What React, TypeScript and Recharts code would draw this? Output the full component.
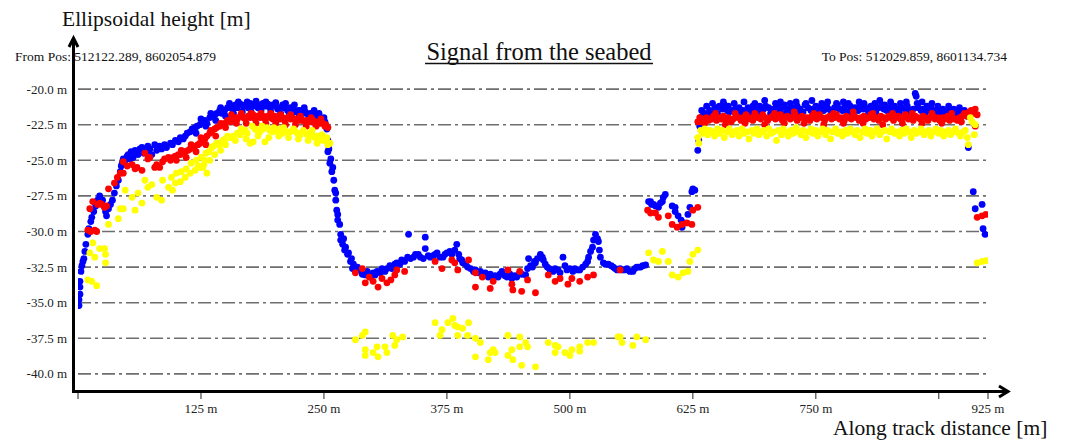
import React from 'react';
import { ReferenceLine, Scatter, ScatterChart, XAxis, YAxis } from 'recharts';

type Pt = [number, number];

// along-track distance [m], ellipsoidal height [m]
const blueRise: Pt[] = [
  [1, -35.2], [1, -34.8], [2, -34.4], [2, -33.9], [2, -33.5], [3, -32.8], [4, -32.4], [5, -32.1],
  [6, -31.9], [7, -31.4], [8, -30.9], [10, -30.2], [11, -29.8], [13, -29.3], [14, -29.0], [16, -28.6],
  [18, -28.2], [19, -27.9], [20, -27.8], [22, -27.5], [23, -28.0], [25, -27.8], [27, -28.3], [28, -28.6],
  [29, -28.9], [31, -28.4], [33, -28.1], [35, -27.8], [37, -27.3], [39, -26.8], [41, -26.4], [43, -25.8],
  [44, -25.4], [45, -25.2], [46, -24.9], [48, -25.0], [50, -24.7], [51, -24.6], [53, -24.9], [54, -24.4],
  [56, -24.8], [58, -24.3], [60, -24.5], [61, -24.6], [63, -24.2], [65, -24.1], [67, -24.5], [69, -24.4],
  [71, -24.0], [73, -24.2], [75, -24.6], [78, -23.9], [80, -24.3], [83, -24.0], [85, -24.2], [88, -23.9],
  [90, -24.1], [94, -23.8], [96, -23.9], [99, -23.6], [102, -23.7], [104, -23.4], [107, -23.5], [109, -23.3],
];

const blueHump: Pt[] = [
  [111, -23.1], [114, -23.0], [116, -22.8], [119, -22.7], [121, -22.6], [124, -22.5], [126, -22.3], [129, -22.2],
  [131, -22.4], [134, -22.0], [136, -21.9], [139, -21.8], [141, -21.7], [144, -21.5], [146, -21.7], [149, -21.5],
  [152, -21.3], [155, -21.2], [157, -21.4], [160, -21.1], [162, -21.3], [165, -21.05], [168, -21.2], [170, -21.1],
  [173, -21.3], [175, -21.0], [178, -21.2], [180, -21.1], [183, -21.3], [185, -21.1], [188, -21.0], [190, -21.2],
  [193, -21.05], [195, -21.3], [198, -21.1], [200, -21.2], [203, -21.4], [205, -21.3], [208, -21.1], [210, -21.3],
  [213, -21.5], [216, -21.3], [219, -21.4], [221, -21.6], [224, -21.5], [226, -21.5], [229, -21.7], [231, -21.6],
  [234, -21.8], [236, -21.7], [239, -21.9], [241, -21.9], [244, -22.0], [246, -22.1], [249, -22.3], [251, -22.3],
];

const blueHumpScatter: Pt[] = [
  [120, -23.1], [125, -22.1], [130, -22.6], [135, -21.7], [140, -22.2], [145, -21.3], [150, -21.9], [154, -21.0],
  [158, -21.7], [163, -20.9], [167, -21.6], [172, -20.9], [176, -21.6], [181, -20.85], [186, -21.5], [191, -20.9],
  [196, -21.6], [201, -20.95], [206, -21.7], [211, -21.0], [215, -21.8], [220, -21.1], [225, -21.9], [230, -21.3],
  [235, -22.0], [240, -21.5], [245, -21.7], [250, -22.0],
];

const blueDrop: Pt[] = [
  [253, -22.8], [254, -23.6], [254, -24.4], [255, -24.2], [256, -25.2], [257, -24.9], [258, -25.8], [259, -25.5],
  [260, -26.4], [261, -27.1], [262, -27.8], [262, -27.3], [263, -28.5], [264, -29.2], [264, -28.8], [266, -29.5],
  [267, -30.2], [267, -30.6], [269, -30.9], [270, -30.5], [271, -31.3], [272, -31.1], [274, -31.6], [275, -31.5],
  [277, -32.1], [278, -31.9], [279, -32.6], [280, -32.3], [282, -32.8], [284, -32.5],
];

const blueTrough: Pt[] = [
  [287, -32.7], [289, -33.0], [292, -33.05], [294, -32.8], [297, -33.2], [300, -32.9], [302, -33.05], [304, -32.8],
  [307, -32.9], [309, -32.6], [312, -32.8], [314, -32.6], [317, -32.4], [319, -32.6], [322, -32.3], [324, -32.2],
  [327, -32.3], [329, -32.0], [332, -32.1], [335, -31.8], [336, -30.2], [338, -31.9], [341, -31.8], [343, -31.6],
  [346, -31.6], [348, -31.8], [351, -31.9], [353, -30.4], [353, -31.2], [356, -31.7], [358, -31.8], [361, -31.7],
  [363, -31.6], [365, -31.5], [368, -31.8], [371, -31.8], [373, -31.6], [375, -31.5], [378, -31.4], [380, -31.6],
  [383, -31.3], [385, -30.9], [387, -31.6], [388, -31.9], [390, -32.0], [391, -32.2], [394, -32.3], [396, -32.5],
  [399, -32.6], [402, -32.8], [404, -32.7], [407, -32.9], [409, -32.8], [412, -33.05], [414, -32.9], [417, -33.2],
  [419, -33.0], [422, -33.3], [424, -33.1], [427, -33.2], [429, -33.0], [431, -32.8], [434, -33.1], [436, -33.2],
  [439, -33.0], [441, -33.3], [444, -33.1], [446, -33.2], [449, -32.9], [451, -33.0], [455, -33.05], [457, -32.6],
  [458, -31.9], [460, -32.4], [462, -32.5], [464, -32.1], [465, -32.2], [467, -31.9], [470, -31.6], [472, -31.8],
  [473, -32.0], [475, -32.3], [477, -32.5], [479, -32.6], [480, -32.7], [483, -32.8], [485, -32.6], [488, -32.7],
  [490, -32.9], [493, -31.8], [495, -32.4], [497, -32.7], [500, -32.6], [503, -32.8], [505, -32.6], [508, -32.7],
  [510, -32.7], [513, -32.5], [516, -32.3], [518, -32.1], [519, -31.8], [521, -31.4], [523, -31.1], [524, -30.6],
  [526, -30.2], [528, -30.5], [529, -30.7], [530, -31.3], [531, -31.8], [534, -32.2], [536, -32.3], [539, -32.3],
  [542, -32.4], [544, -32.5], [546, -32.6], [548, -32.7], [551, -32.6], [553, -32.7], [556, -32.7], [558, -32.6],
  [561, -32.8], [564, -32.8], [566, -32.6], [568, -32.5], [570, -32.5], [572, -32.5], [574, -32.4], [577, -32.35],
];

const blueCluster: Pt[] = [
  [580, -27.9], [582, -27.9], [583, -28.1], [585, -28.1], [587, -28.2], [590, -28.3], [592, -28.0], [594, -27.9],
  [595, -27.6], [597, -27.4], [604, -28.2], [607, -28.3], [607, -28.6], [610, -28.9], [613, -29.2], [614, -29.7],
  [616, -29.4], [620, -28.8], [622, -28.3], [624, -27.2], [625, -27.0], [627, -27.1],
];

const bluePlateau: Pt[] = [
  [630, -24.3], [631, -23.6], [632, -22.6], [633, -22.0], [635, -21.9], [637, -21.7], [640, -21.8], [642, -21.5],
  [644, -21.6], [647, -21.4], [649, -21.3], [652, -21.2], [655, -21.4], [657, -21.1], [660, -21.5], [662, -21.6],
  [665, -21.5], [668, -21.4], [670, -21.7], [673, -21.6], [676, -21.5], [678, -21.6], [681, -21.3], [684, -21.4],
  [686, -21.2], [689, -21.5], [691, -21.3], [694, -21.6], [697, -21.4], [699, -21.2], [702, -21.3], [705, -21.5],
  [707, -21.4], [710, -21.2], [713, -21.6], [715, -21.3], [718, -21.1], [721, -21.4], [723, -21.6], [726, -21.3],
  [729, -21.5], [731, -21.2], [734, -21.4], [737, -21.6], [739, -21.1], [742, -21.3], [745, -21.5], [747, -21.4],
  [750, -21.2], [753, -21.6], [755, -21.3], [758, -21.5], [761, -21.2], [763, -21.4], [766, -21.6], [769, -21.3],
  [771, -21.0], [774, -21.4], [777, -21.5], [779, -21.3], [782, -21.6], [785, -21.2], [787, -21.4], [790, -21.3],
  [793, -21.5], [795, -21.1], [798, -21.4], [801, -21.3], [803, -21.5], [806, -21.2], [809, -21.4], [811, -21.6],
  [814, -21.3], [817, -21.1], [819, -21.4], [822, -21.5], [825, -21.3], [827, -21.5], [830, -21.2], [833, -21.4],
  [835, -21.6], [838, -21.3], [841, -21.4], [843, -21.2], [846, -21.5], [849, -21.4], [851, -20.3], [852, -20.5],
  [854, -21.3], [857, -21.5], [859, -21.4], [862, -21.6], [865, -21.4], [867, -21.3], [870, -21.5], [873, -21.7],
  [875, -21.5], [878, -21.8], [881, -21.6], [883, -21.8], [886, -21.5], [889, -21.7], [891, -21.9], [894, -21.6],
  [897, -21.8], [899, -21.6], [902, -21.7], [904, -21.9], [907, -21.8], [905, -24.1],
];

const bluePlateauScatter: Pt[] = [
  [634, -21.5], [639, -21.2], [645, -21.0], [650, -21.7], [656, -20.9], [661, -21.2], [667, -21.0], [672, -21.3],
  [677, -20.9], [683, -21.7], [688, -21.0], [693, -21.2], [698, -20.8], [704, -21.7], [709, -21.0], [714, -20.9],
  [719, -21.7], [724, -21.0], [730, -20.9], [735, -21.7], [740, -21.0], [746, -20.8], [751, -21.7], [756, -21.0],
  [762, -20.9], [767, -21.7], [772, -21.1], [778, -20.9], [783, -21.0], [788, -21.7], [794, -20.9], [799, -21.0],
  [804, -21.7], [810, -21.0], [815, -20.8], [820, -21.1], [826, -20.9], [831, -21.7], [836, -21.0], [842, -20.9],
  [847, -21.7], [853, -21.0], [858, -20.9], [863, -21.2], [868, -21.0], [874, -21.2], [879, -21.4], [885, -21.2],
  [890, -21.4], [896, -21.3], [901, -21.5],
];

const blueEnd: Pt[] = [[910, -27.2], [912, -28.4], [919, -28.1], [920, -29.8], [922, -30.2]];

const redHump: Pt[] = [
  [10, -29.9], [12, -28.4], [13, -30.0], [15, -27.9], [17, -29.9], [19, -30.0], [20, -28.1], [22, -28.0],
  [24, -28.1], [27, -28.3], [29, -28.2], [31, -27.0], [37, -26.6], [40, -26.2], [43, -25.9], [46, -25.9],
  [46, -25.1], [50, -25.4], [55, -25.3], [58, -25.6], [60, -25.5], [65, -25.7], [68, -24.5], [71, -24.9],
  [73, -24.8], [78, -25.5], [80, -25.3], [83, -25.5], [86, -25.1], [88, -24.9], [92, -24.8], [94, -25.0],
  [97, -24.8], [99, -24.7], [102, -24.6], [104, -24.6], [107, -24.4], [109, -24.4], [112, -24.3], [114, -24.2],
  [117, -24.1], [119, -24.0], [122, -23.9], [124, -23.8], [127, -23.6], [129, -23.5], [131, -23.3], [134, -23.1],
  [136, -23.0], [139, -22.8], [141, -22.7], [144, -22.6], [147, -22.5], [149, -22.4], [152, -22.2], [155, -22.3],
  [157, -22.1], [160, -22.0], [162, -22.1], [165, -21.9], [168, -22.0], [170, -22.1], [173, -21.9], [175, -22.0],
  [178, -21.8], [180, -22.1], [182, -21.9], [185, -22.0], [188, -21.9], [190, -22.1], [193, -21.9], [195, -22.0],
  [198, -22.1], [200, -21.9], [202, -22.0], [205, -22.1], [208, -22.0], [210, -22.2], [213, -22.0], [216, -22.1],
  [218, -22.0], [221, -22.2], [223, -22.1], [226, -22.2], [229, -22.2], [231, -22.3], [233, -22.2], [236, -22.3],
  [239, -22.2], [241, -22.4], [243, -22.3], [246, -22.4], [249, -22.4], [251, -22.6], [254, -22.7],
];

const redHumpScatter: Pt[] = [
  [100, -25.0], [105, -24.3], [110, -24.8], [115, -23.9], [120, -24.4], [125, -23.4], [130, -23.9], [135, -22.9],
  [140, -23.3], [145, -22.4], [150, -22.7], [156, -21.8], [161, -22.4], [166, -21.7], [171, -22.4], [176, -21.7],
  [181, -22.4], [186, -21.7], [191, -22.4], [196, -21.7], [201, -22.4], [206, -21.8], [211, -22.5], [216, -21.8],
  [221, -22.5], [226, -21.9], [232, -22.6], [237, -22.0], [242, -22.6], [247, -22.1], [252, -22.5],
];

const redTrough: Pt[] = [
  [282, -32.9], [289, -32.6], [292, -33.6], [296, -33.2], [300, -33.5], [305, -33.9], [309, -33.3], [314, -33.6],
  [318, -33.4], [322, -33.05], [324, -32.7], [332, -32.8], [363, -32.1], [370, -32.6], [380, -32.0], [383, -32.2],
  [386, -32.7], [397, -32.0], [404, -32.9], [404, -33.9], [411, -33.2], [419, -34.0], [422, -33.5], [437, -32.7],
  [441, -33.7], [442, -34.1], [449, -32.8], [451, -34.2], [457, -33.4], [465, -34.3], [478, -33.05], [485, -33.5],
  [490, -33.3], [498, -33.7], [502, -33.3], [510, -33.5], [518, -33.2], [524, -33.05], [551, -32.7],
];

const redCluster: Pt[] = [
  [579, -28.5], [582, -28.7], [587, -28.7], [590, -29.0], [600, -28.9], [604, -29.5], [609, -29.7], [614, -29.5],
  [619, -29.4], [624, -29.5], [625, -28.5], [630, -28.3],
];

const redPlateau: Pt[] = [
  [630, -22.3], [632, -22.0], [634, -22.3], [636, -22.1], [639, -22.0], [641, -22.2], [644, -22.1], [646, -21.9],
  [649, -22.2], [651, -22.0], [654, -22.1], [656, -21.9], [659, -22.2], [661, -22.0], [664, -22.3], [666, -22.1],
  [669, -21.9], [671, -22.0], [674, -22.2], [676, -22.0], [679, -21.8], [681, -22.1], [684, -22.0], [686, -22.2],
  [689, -21.9], [691, -22.0], [694, -22.1], [696, -21.8], [699, -22.0], [701, -22.2], [704, -22.0], [706, -21.9],
  [709, -22.1], [711, -22.0], [714, -21.8], [716, -22.2], [719, -22.0], [721, -21.9], [724, -22.1], [726, -22.0],
  [729, -21.8], [731, -22.2], [734, -22.0], [736, -21.9], [739, -22.1], [741, -22.0], [744, -22.2], [746, -21.9],
  [749, -22.0], [751, -22.1], [754, -21.8], [756, -22.0], [759, -22.2], [761, -22.0], [764, -21.9], [766, -22.1],
  [769, -22.0], [771, -21.8], [774, -22.1], [776, -22.0], [779, -22.2], [781, -21.9], [784, -22.0], [786, -22.1],
  [789, -21.9], [791, -22.0], [794, -22.2], [796, -22.0], [799, -21.9], [801, -22.1], [804, -22.0], [806, -21.8],
  [809, -22.1], [811, -22.0], [814, -22.2], [816, -21.9], [819, -22.0], [821, -22.1], [824, -21.9], [826, -22.0],
  [829, -22.2], [831, -22.0], [834, -21.9], [836, -22.1], [839, -22.0], [841, -21.8], [844, -22.1], [846, -22.0],
  [849, -22.2], [851, -21.9], [854, -22.0], [856, -22.1], [859, -21.9], [861, -22.0], [864, -22.2], [866, -22.0],
  [869, -21.9], [871, -22.1], [874, -22.0], [876, -22.2], [879, -22.0], [881, -22.1], [884, -21.9], [886, -22.2],
  [889, -22.0], [891, -22.1], [894, -22.2], [896, -22.0], [899, -21.9], [901, -21.7], [904, -21.9], [906, -21.6],
  [908, -21.5], [910, -21.7], [912, -21.4], [914, -21.8], [912, -22.6],
];

const redPlateauScatter: Pt[] = [
  [637, -22.4], [648, -21.7], [658, -22.5], [668, -21.7], [678, -22.4], [688, -21.7], [698, -22.5], [708, -21.7],
  [718, -22.4], [728, -21.6], [738, -22.4], [748, -21.7], [758, -22.5], [768, -21.7], [778, -22.4], [788, -21.6],
  [798, -22.4], [808, -21.7], [818, -22.5], [828, -21.7], [838, -22.4], [848, -21.7], [858, -22.4], [868, -21.7],
  [878, -22.4], [888, -21.7], [898, -22.3],
];

const redEnd: Pt[] = [[914, -29.0], [919, -28.9], [923, -28.8]];

const yellowHump: Pt[] = [
  [10, -33.4], [14, -33.5], [19, -33.8], [15, -30.8], [12, -31.5], [17, -31.8], [22, -31.2], [27, -31.2],
  [28, -31.6], [28, -32.2], [31, -29.5], [41, -29.1], [43, -28.4], [46, -28.4], [48, -27.1], [55, -27.6],
  [58, -28.5], [61, -27.3], [65, -28.0], [68, -26.4], [71, -26.9], [75, -26.7], [80, -27.6], [85, -27.8],
  [86, -26.4], [92, -26.9], [95, -26.2], [96, -27.1], [99, -26.6], [100, -25.9], [104, -26.5], [105, -25.8],
  [109, -26.2], [110, -25.6], [114, -25.9], [115, -25.2], [119, -25.7], [120, -25.0], [124, -25.5], [125, -24.8],
  [127, -25.5], [129, -25.0], [130, -24.5], [131, -25.9], [133, -24.4], [136, -24.1], [138, -24.0], [141, -23.8],
  [144, -23.9], [147, -23.6], [150, -23.5], [152, -23.3], [155, -23.4], [158, -23.3], [162, -23.1], [165, -23.2],
  [168, -23.0], [170, -22.9], [172, -23.1], [175, -23.8], [178, -23.7], [180, -22.8], [182, -22.9], [185, -23.0],
  [188, -22.8], [190, -23.7], [192, -22.7], [195, -22.9], [198, -23.0], [202, -22.9], [205, -22.8], [208, -23.1],
  [210, -22.9], [213, -23.0], [216, -23.0], [220, -22.9], [223, -23.1], [226, -23.2], [230, -23.0], [233, -23.2],
  [236, -23.1], [239, -23.3], [241, -23.4], [244, -23.3], [246, -23.5], [249, -23.6], [252, -23.6], [254, -23.9],
  [256, -23.8],
];

const yellowHumpScatter: Pt[] = [
  [122, -25.4], [128, -25.3], [134, -25.0], [139, -24.6], [145, -24.3], [150, -23.9], [160, -23.6], [166, -22.8],
  [171, -23.5], [177, -22.6], [183, -23.3], [187, -22.6], [194, -23.4], [199, -22.7], [204, -23.3], [209, -22.7],
  [214, -23.4], [219, -22.8], [224, -23.5], [229, -22.9], [234, -23.6], [238, -22.9], [243, -23.8], [248, -23.2],
  [253, -23.4],
];

const yellowTrough: Pt[] = [
  [282, -37.6], [289, -37.3], [292, -37.05], [292, -38.3], [292, -38.7], [300, -38.5], [304, -38.1], [305, -38.8],
  [312, -38.1], [314, -38.5], [320, -37.3], [322, -38.0], [324, -37.6], [330, -37.4], [363, -36.4], [370, -36.9],
  [368, -37.3], [376, -36.4], [381, -36.1], [383, -36.6], [386, -36.7], [386, -37.3], [391, -36.8], [396, -37.3],
  [397, -36.4], [404, -37.5], [409, -37.8], [404, -38.8], [417, -39.0], [419, -38.5], [422, -38.3], [424, -38.5],
  [437, -37.3], [437, -38.7], [441, -38.3], [442, -39.0], [449, -38.1], [449, -37.4], [455, -37.8], [457, -38.1],
  [451, -39.4], [465, -39.5], [478, -37.8], [485, -38.0], [485, -38.5], [488, -38.1], [495, -38.5], [500, -38.7],
  [502, -38.3], [510, -38.1], [510, -38.4], [518, -37.8], [524, -37.8], [549, -37.4], [551, -37.4], [553, -37.8],
  [564, -38.0], [568, -37.4], [577, -37.6],
];

const yellowCluster: Pt[] = [
  [580, -31.5], [585, -32.0], [590, -32.1], [594, -31.4], [600, -32.1], [604, -33.05], [610, -33.2], [615, -32.9],
  [620, -32.8], [622, -32.1], [625, -31.6], [630, -31.3],
];

const yellowPlateau: Pt[] = [
  [630, -23.4], [631, -23.8], [633, -22.9], [635, -23.1], [637, -22.8], [640, -23.2], [642, -22.9], [645, -23.0],
  [647, -23.3], [650, -22.8], [652, -23.1], [655, -22.9], [657, -23.4], [660, -23.0], [662, -22.8], [665, -23.2],
  [667, -23.0], [670, -22.9], [672, -23.3], [675, -22.8], [677, -23.1], [680, -23.0], [682, -23.5], [685, -22.9],
  [687, -23.1], [690, -22.8], [692, -23.2], [695, -23.0], [697, -22.9], [700, -23.3], [702, -22.8], [705, -23.1],
  [707, -23.0], [710, -23.6], [712, -22.9], [715, -23.2], [717, -22.8], [720, -23.0], [722, -23.3], [725, -22.9],
  [727, -23.1], [730, -22.7], [732, -23.0], [735, -23.2], [737, -22.9], [740, -23.4], [742, -23.0], [745, -22.8],
  [747, -23.1], [750, -22.9], [752, -23.3], [755, -23.0], [757, -22.8], [760, -23.2], [762, -22.9], [765, -23.5],
  [767, -23.0], [770, -22.8], [772, -23.1], [775, -23.0], [777, -23.3], [780, -22.9], [782, -23.1], [785, -22.8],
  [787, -23.0], [790, -23.2], [792, -22.9], [795, -23.4], [797, -23.0], [800, -22.8], [802, -23.1], [805, -22.9],
  [807, -23.3], [810, -23.0], [812, -22.8], [815, -23.2], [817, -23.0], [820, -22.9], [822, -23.5], [825, -23.0],
  [827, -22.8], [830, -23.1], [832, -23.0], [835, -23.3], [837, -22.9], [840, -23.1], [842, -22.8], [845, -23.0],
  [847, -23.4], [850, -22.9], [852, -23.1], [855, -23.0], [857, -22.8], [860, -23.2], [862, -23.0], [865, -22.9],
  [867, -23.3], [870, -23.0], [872, -22.8], [875, -23.1], [877, -22.9], [880, -23.3], [882, -23.0], [885, -22.9],
  [887, -23.2], [890, -23.0], [892, -22.8], [895, -23.1], [897, -23.3], [900, -23.0], [902, -22.9], [904, -23.4],
  [905, -23.9], [907, -22.0], [909, -22.3], [911, -23.2], [912, -22.5],
];

const yellowEnd: Pt[] = [[914, -32.2], [919, -32.1], [923, -32.05]];

const xTicks = [0, 125, 250, 375, 500, 625, 750, 875, 925];
const xTickHidden = [0, 875];
const yTicks = [-40, -37.5, -35, -32.5, -30, -27.5, -25, -22.5, -20];

const FONT = '"Liberation Serif", "Times New Roman", serif';

const toRows = (...parts: Pt[][]) => parts.flat().map(([x, y]) => ({ x, y }));

const blueData = toRows(blueRise, blueHump, blueHumpScatter, blueDrop, blueTrough, blueCluster, bluePlateau, bluePlateauScatter, blueEnd);
const redData = toRows(redHump, redHumpScatter, redTrough, redCluster, redPlateau, redPlateauScatter, redEnd);
const yellowData = toRows(yellowHump, yellowHumpScatter, yellowTrough, yellowCluster, yellowPlateau, yellowEnd);

const dot = (color: string) => (props: any) => (
  <circle cx={props.cx} cy={props.cy} r={3.4} fill={color} />
);

function XTick({ x, y, payload }: any) {
  const v = payload.value as number;
  return (
    <g>
      <line x1={x} x2={x} y1={y + 2} y2={y + 8} stroke="#222" strokeWidth={1} />
      {!xTickHidden.includes(v) && (
        <text x={x} y={y + 22} textAnchor="middle" fontFamily={FONT} fontSize={13} fill="#222">
          {`${v} m`}
        </text>
      )}
    </g>
  );
}

function YTick({ x, y, payload }: any) {
  return (
    <text x={x} y={y} dy={4.5} textAnchor="end" fontFamily={FONT} fontSize={13} fill="#222">
      {`${(payload.value as number).toFixed(1)} m`}
    </text>
  );
}

export default function App() {
  return (
    <div style={{ position: 'absolute', left: 0, top: 0, width: 1068, height: 441, background: '#fff' }}>
      <ScatterChart width={1068} height={441} margin={{ top: 82, right: 80, bottom: 10, left: 18 }}>
        <XAxis
          type="number"
          dataKey="x"
          domain={[0, 925]}
          ticks={xTicks}
          interval={0}
          height={40}
          axisLine={false}
          tickLine={false}
          tickSize={0}
          tickMargin={0}
          tick={<XTick />}
          allowDataOverflow
        />
        <YAxis
          type="number"
          dataKey="y"
          domain={[-41.2, -19.5]}
          ticks={yTicks}
          interval={0}
          width={60}
          axisLine={false}
          tickLine={false}
          tickSize={0}
          tickMargin={11}
          tick={<YTick />}
          allowDataOverflow
        />
        {yTicks.map((t) => (
          <ReferenceLine
            key={t}
            y={t}
            stroke="#6e6e6e"
            strokeWidth={1.6}
            strokeDasharray="13 4 3 4"
          />
        ))}
        <Scatter data={blueData} fill="#0000ff" shape={dot('#0000ff')} isAnimationActive={false} />
        <Scatter data={redData} fill="#ff0000" shape={dot('#ff0000')} isAnimationActive={false} />
        <Scatter data={yellowData} fill="#ffff00" shape={dot('#ffff00')} isAnimationActive={false} />
      </ScatterChart>
      <svg
        width={1068}
        height={441}
        style={{ position: 'absolute', left: 0, top: 0, pointerEvents: 'none' }}
      >
        <line x1={73.5} x2={73.5} y1={393} y2={39} stroke="#000" strokeWidth={3} />
        <polyline points="69,47 73.5,38 78,47" fill="none" stroke="#000" strokeWidth={3} />
        <line x1={72} x2={1007} y1={391.5} y2={391.5} stroke="#000" strokeWidth={3} />
        <polyline points="999,386 1008,391.5 999,397" fill="none" stroke="#000" strokeWidth={3} />
        <text x={62} y={26} fontFamily={FONT} fontSize={21.5} fill="#111">Ellipsoidal height [m]</text>
        <text x={15} y={61} fontFamily={FONT} fontSize={13.5} fill="#111">From Pos: 512122.289, 8602054.879</text>
        <text x={1007} y={61} textAnchor="end" fontFamily={FONT} fontSize={13.5} fill="#111">To Pos: 512029.859, 8601134.734</text>
        <text x={539} y={60} textAnchor="middle" fontFamily={FONT} fontSize={24.5} fill="#111">Signal from the seabed</text>
        <line x1={425} x2={653} y1={63.5} y2={63.5} stroke="#111" strokeWidth={1.4} />
        <text x={833} y={435} fontFamily={FONT} fontSize={21.5} fill="#111">Along track distance [m]</text>
      </svg>
    </div>
  );
}
